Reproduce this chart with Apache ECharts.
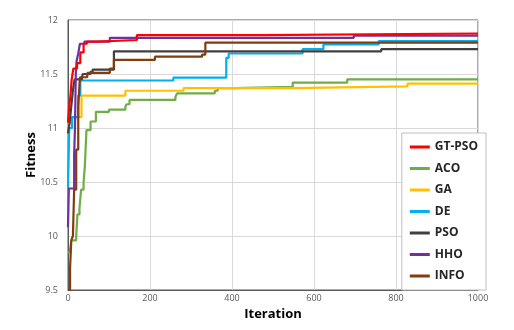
<!DOCTYPE html>
<html>
<head>
<meta charset="utf-8">
<script src="https://cdn.jsdelivr.net/npm/echarts@6/dist/echarts.min.js"></script>
<style>
  html, body { margin: 0; padding: 0; background: #fff; }
  #main { width: 514px; height: 330px; }
</style>
</head>
<body>
<div id="main"></div>
<script>
// change points: [iteration, fitness], value holds until next point
var names = ["GT-PSO", "ACO", "GA", "DE", "PSO", "HHO", "INFO"];
var colors = ["#ff0000", "#70ad47", "#ffc000", "#00b0f0", "#404040", "#7030a0", "#843c0c"];

var gtpso = [[0, 11.05], [3, 11.2], [6, 11.3], [9, 11.45], [13, 11.55], [22, 11.6], [30, 11.7], [38, 11.78], [46, 11.8], [70, 11.815], [168, 11.86], [470, 11.875], [1000, 11.88]];
var aco = [[0, 9.85], [5, 9.87], [8, 9.96], [20, 10.0], [23, 10.2], [28, 10.26], [32, 10.43], [38, 10.5], [41, 10.64], [45, 10.98], [55, 11.06], [68, 11.15], [100, 11.17], [140, 11.2], [143, 11.22], [150, 11.26], [262, 11.29], [266, 11.32], [358, 11.345], [365, 11.37], [405, 11.38], [548, 11.42], [681, 11.45], [1000, 11.45]];
var ga = [[0, 11.0], [2, 11.05], [8, 11.1], [33, 11.3], [140, 11.345], [282, 11.37], [546, 11.385], [828, 11.41], [1000, 11.41]];
var de = [[0, 10.44], [3, 11.0], [10, 11.1], [25, 11.3], [30, 11.44], [257, 11.466], [386, 11.65], [392, 11.69], [572, 11.73], [623, 11.775], [758, 11.805], [1000, 11.805]];
var pso = [[0, 10.95], [4, 11.05], [8, 11.2], [12, 11.35], [16, 11.45], [34, 11.47], [36, 11.5], [55, 11.52], [60, 11.54], [112, 11.71], [764, 11.73], [1000, 11.73]];
var hho = [[0, 10.08], [2, 10.44], [15, 10.75], [17, 11.0], [19, 11.5], [21, 11.62], [25, 11.69], [29, 11.78], [40, 11.8], [102, 11.835], [697, 11.855], [1000, 11.855]];
var info = [[0, 9.5], [5, 9.7], [8, 9.96], [12, 10.0], [15, 10.43], [20, 10.8], [25, 11.2], [29, 11.47], [47, 11.51], [102, 11.55], [112, 11.63], [212, 11.66], [327, 11.68], [335, 11.79], [1000, 11.79]];

var seriesData = [gtpso, aco, ga, de, pso, hho, info];
var xTicks = [0, 200, 400, 600, 800, 1000];
var yTicks = [9.5, 10, 10.5, 11, 11.5, 12];

var myChart = echarts.init(document.getElementById("main"));
var option = {
  animation: false,
  textStyle: { fontFamily: "Open Sans" },
  grid: {
    left: 68, right: 36, top: 20, bottom: 40,
    show: true, borderColor: "#595959", borderWidth: 1
  },
  xAxis: {
    type: "value",
    min: xTicks[0], max: xTicks[xTicks.length - 1], interval: 200,
    name: "Iteration", nameLocation: "middle", nameGap: 14,
    nameTextStyle: { fontSize: 13, fontWeight: "bold", color: "#000" },
    axisLine: { show: true, lineStyle: { color: "#595959" } },
    axisTick: { show: false },
    axisLabel: { color: "#595959", fontSize: 9, margin: 4, formatter: function (v) { return String(v); } },
    splitLine: { lineStyle: { color: "#d9d9d9" } }
  },
  yAxis: {
    type: "value",
    min: yTicks[0], max: yTicks[yTicks.length - 1], interval: 0.5,
    name: "Fitness", nameLocation: "middle", nameGap: 30, nameMoveOverlap: false,
    nameTextStyle: { fontSize: 13, fontWeight: "bold", color: "#000" },
    axisLine: { show: true, lineStyle: { color: "#595959" } },
    axisTick: { show: false },
    axisLabel: { color: "#595959", fontSize: 9, margin: 10 },
    splitLine: { lineStyle: { color: "#d9d9d9" } }
  },
  legend: {
    orient: "vertical",
    right: 28, top: 133,
    backgroundColor: "#fff",
    borderColor: "#bfbfbf", borderWidth: 1,
    padding: [8, 8, 8, 8],
    itemWidth: 20, itemHeight: 3, itemGap: 9.5,
    icon: "rect",
    textStyle: { fontSize: 12, fontWeight: "bold", color: "#262626" },
    data: names
  },
  series: names.map(function (n, i) {
    return {
      name: n,
      type: "line",
      step: "end",
      symbol: "none",
      z: i === 0 ? 10 : 2,
      color: colors[i],
      lineStyle: { width: 2.2, color: colors[i] },
      data: seriesData[i]
    };
  })
};
option && myChart.setOption(option);
</script>
</body>
</html>
